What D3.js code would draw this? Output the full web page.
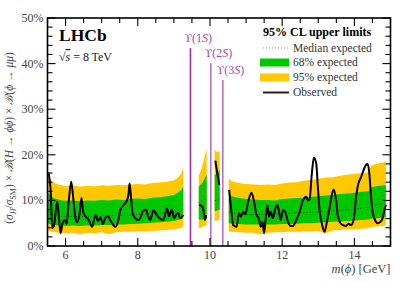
<!DOCTYPE html>
<html>
<head>
<meta charset="utf-8">
<script src="https://cdn.jsdelivr.net/npm/d3@7"></script>
<style>
  body { margin: 0; background: #fff; }
  svg text { font-family: "Liberation Serif", "DejaVu Serif", serif; }
</style>
</head>
<body>
<div id="chart"></div>
<script>
// ---- data (values in percent, masses in GeV) ----
// expected bands, region below the Upsilon(1S)
var massA   = [5.5,5.6,5.7,5.8,5.9,6.0,6.2,6.4,6.6,6.8,7.0,7.2,7.4,7.6,7.8,8.0,8.2,8.4,8.6,8.8,9.0,9.1,9.2,9.26];
var y95HiA  = [14.9,14.3,13.8,13.5,13.3,13.1,13.3,13.0,13.2,13.1,13.3,13.2,13.4,13.3,13.5,13.6,13.5,13.8,13.9,14.1,14.4,14.9,15.8,17.2];
var y68HiA  = [11.8,10.9,10.4,10.2,10.0,9.9,10.0,9.8,10.0,9.9,10.1,10.0,10.2,10.1,10.3,10.4,10.3,10.6,10.7,10.9,11.2,11.6,12.3,13.0];
var medA    = [7.6,7.0,6.7,6.6,6.5,6.4,6.5,6.4,6.5,6.5,6.6,6.6,6.7,6.7,6.8,6.9,7.0,7.1,7.2,7.3,7.5,7.7,8.0,8.3];
var y68LoA  = [5.0,4.7,4.6,4.5,4.5,4.4,4.5,4.4,4.5,4.5,4.6,4.6,4.7,4.7,4.8,4.9,5.0,5.1,5.2,5.3,5.5,5.7,5.9,6.1];
var y95LoA  = [3.4,3.2,3.0,2.9,2.9,2.8,2.9,2.5,2.9,2.8,3.0,2.6,3.0,3.1,3.1,3.2,3.2,3.3,3.4,3.5,3.6,3.8,4.0,4.3];

// between Upsilon(1S) and (2S)
var massB   = [9.69,9.75,9.80,9.85,9.91];
var y95HiB  = [15.5,16.5,18.0,19.5,21.3];
var y68HiB  = [13.0,13.5,14.0,14.8,15.6];
var medB    = [9.5,9.8,10.0,10.2,10.5];
var y68LoB  = [5.8,5.8,5.8,5.9,6.0];
var y95LoB  = [3.9,4.0,4.2,4.4,4.6];

// between Upsilon(2S) and (3S)
var massC   = [10.13,10.20,10.27];
var y95HiC  = [21.0,20.6,20.8];
var y68HiC  = [15.5,16.0,16.7];
var medC    = [10.0,10.0,10.2];
var y68LoC  = [7.6,7.8,8.0];
var y95LoC  = [5.5,5.6,5.8];

// above the Upsilon(3S)
var massD   = [10.52,10.6,10.8,11.0,11.2,11.4,11.6,11.8,12.0,12.2,12.4,12.6,12.8,13.0,13.2,13.4,13.6,13.8,14.0,14.2,14.4,14.45,14.6,14.8,14.87];
var y95HiD  = [14.8,14.2,13.8,13.6,13.5,13.4,13.5,13.4,13.7,13.9,14.0,14.3,14.5,14.7,15.0,15.1,15.4,15.6,15.8,16.0,16.2,17.6,18.0,18.3,18.5];
var y68HiD  = [11.6,10.9,10.5,10.3,10.2,10.1,10.1,10.0,10.3,10.4,10.5,10.6,10.8,10.9,11.1,11.2,11.4,11.5,11.7,11.9,12.0,12.8,13.1,13.3,13.4];
var medD    = [7.4,7.2,7.0,6.9,6.9,6.9,7.0,7.0,7.1,7.2,7.3,7.3,7.4,7.5,7.6,7.7,7.8,7.9,8.1,8.3,8.5,8.8,9.0,9.3,9.5];
var y68LoD  = [5.0,4.9,4.8,4.7,4.7,4.7,4.7,4.7,4.8,4.8,4.9,5.0,5.0,5.1,5.2,5.3,5.4,5.5,5.6,5.7,5.8,6.0,6.1,6.2,6.3];
var y95LoD  = [3.2,3.1,3.0,2.9,2.9,2.5,2.9,3.0,3.0,3.1,3.1,3.2,3.2,3.3,2.8,3.4,3.5,3.6,3.7,3.8,3.9,4.1,4.3,4.4,4.6];

// observed limits
var obsMassA = [5.523,5.586,5.633,5.68,5.768,5.82,5.862,5.917,5.972,6.028,6.09,6.157,6.207,6.268,6.323,6.386,6.441,6.488,6.552,6.634,6.737,6.828,6.897,6.966,7.029,7.103,7.178,7.241,7.324,7.379,7.462,7.517,7.608,7.702,7.746,7.774,7.812,7.857,7.931,8.006,8.069,8.132,8.226,8.29,8.345,8.436,8.51,8.593,8.712,8.806,8.869,8.943,9.007,9.076,9.126,9.172,9.263];
var obsA     = [16.1,12.3,3.9,4.5,9.7,6.0,2.8,5.0,5.7,4.8,10.0,14.1,11.0,6.4,5.2,7.0,10.5,7.5,6.5,5.8,4.2,6.8,5.5,6.3,4.8,6.2,6.5,5.6,4.6,4.2,5.7,7.9,9.0,10.0,11.5,13.7,10.8,7.2,6.1,5.7,6.1,7.5,8.0,6.5,5.7,7.9,7.0,6.2,5.7,8.3,6.5,8.0,6.1,7.0,7.2,6.1,6.8];
var obsMassB = [9.70,9.77,9.82,9.86,9.89];
var obsB     = [9.0,8.8,7.9,5.7,6.8];
var obsMassC = [10.15,10.20,10.26];
var obsC     = [18.7,16.0,13.4];
var obsMassD = [10.532,10.599,10.643,10.737,10.8,10.855,10.919,10.98,11.057,11.15,11.222,11.288,11.352,11.407,11.454,11.498,11.537,11.592,11.636,11.683,11.746,11.812,11.868,11.912,11.959,12.022,12.083,12.16,12.234,12.298,12.392,12.483,12.574,12.668,12.712,12.759,12.822,12.877,12.943,12.988,13.034,13.098,13.172,13.247,13.31,13.374,13.429,13.495,13.539,13.614,13.683,13.771,13.834,13.909,13.981,14.047,14.11,14.185,14.257,14.323,14.367,14.414,14.461,14.505,14.571,14.643,14.717,14.781,14.828,14.874];
var obsD     = [12.3,7.2,4.6,4.2,7.2,6.4,7.5,7.0,9.7,11.7,9.7,6.8,6.1,4.2,5.3,2.8,5.5,9.0,6.4,7.5,6.1,8.3,9.0,7.5,5.7,7.9,7.5,5.3,4.4,4.4,5.7,7.5,10.0,10.8,10.0,10.3,15.9,19.4,18.1,13.0,7.9,5.0,3.1,5.7,8.3,11.2,12.4,10.0,6.8,5.0,4.6,4.4,4.9,4.6,5.8,10.8,13.7,15.1,16.7,17.8,18.0,15.9,10.8,7.5,5.7,5.0,5.3,6.1,7.9,9.0];

// Upsilon resonances
var upsMass  = [9.46, 10.023, 10.355];
var upsTop   = [43.4, 40.1, 36.4];
var upsLabel = ["1", "2", "3"];
var upsColor = ["#9c2fac", "#b870c6", "#b870c6"];

var yTicks = [0, 10, 20, 30, 40, 50];
var xTicks = [6, 8, 10, 12, 14];

var legendLabels = ["Median expected", "68% expected", "95% expected", "Observed"];

// ---- layout ----
var W = 407, H = 291;
var plotL = 47.5, plotR = 390.5, plotT = 18, plotB = 246;

var svg = d3.select("#chart").append("svg")
  .attr("width", W).attr("height", H);

var x = d3.scaleLinear().domain([5.5, 15.0]).range([plotL, plotR]);
var y = d3.scaleLinear().domain([0, 50]).range([plotB, plotT]);

var yellow = "#ffc800", green = "#00c800";

function zipBand(m, a, b) {
  return m.map(function(v, i){ return {m: v, hi: a[i], lo: b[i]}; });
}
function zipLine(m, v) {
  return m.map(function(d, i){ return {m: d, v: v[i]}; });
}

var regions = [
  [massA, y95HiA, y68HiA, medA, y68LoA, y95LoA],
  [massB, y95HiB, y68HiB, medB, y68LoB, y95LoB],
  [massC, y95HiC, y68HiC, medC, y68LoC, y95LoC],
  [massD, y95HiD, y68HiD, medD, y68LoD, y95LoD]
];

var area = d3.area()
  .x(function(d){ return x(d.m); })
  .y0(function(d){ return y(d.lo); })
  .y1(function(d){ return y(d.hi); });

var line = d3.line()
  .x(function(d){ return x(d.m); })
  .y(function(d){ return y(d.v); });

var plot = svg.append("g");

regions.forEach(function(r){
  plot.append("path").datum(zipBand(r[0], r[1], r[5]))
    .attr("d", area).attr("fill", yellow);
  plot.append("path").datum(zipBand(r[0], r[2], r[4]))
    .attr("d", area).attr("fill", green);
  plot.append("path").datum(zipLine(r[0], r[3]))
    .attr("d", line).attr("fill", "none")
    .attr("stroke", "#333").attr("stroke-width", 0.9)
    .attr("stroke-dasharray", "1,2");
});

var obsLine = d3.line()
  .x(function(d){ return x(d.m); })
  .y(function(d){ return y(d.v); })
  .curve(d3.curveMonotoneX);

[[obsMassA, obsA], [obsMassB, obsB], [obsMassC, obsC], [obsMassD, obsD]].forEach(function(o){
  plot.append("path").datum(zipLine(o[0], o[1]))
    .attr("d", obsLine).attr("fill", "none")
    .attr("stroke", "#000").attr("stroke-width", 2)
    .attr("stroke-linejoin", "round");
});

// Upsilon lines + labels
upsMass.forEach(function(m, i){
  plot.append("line")
    .attr("x1", x(m)).attr("x2", x(m))
    .attr("y1", y(upsTop[i])).attr("y2", plotB)
    .attr("stroke", upsColor[i]).attr("stroke-width", 1.6);
  var t = plot.append("text")
    .attr("x", x(m) - 6).attr("y", y(upsTop[i]) - 6)
    .attr("fill", "#a848b8").attr("font-size", 12);
  t.append("tspan").attr("font-family", "DejaVu Serif").attr("font-size", 11).text("\u03D2");
  t.append("tspan").text("(" + upsLabel[i]);
  t.append("tspan").attr("font-style", "italic").text("S");
  t.append("tspan").text(")");
});

// ---- axes (ticks inside, on all four sides) ----
var minorX = d3.range(11, 31).map(function(d){ return d / 2; });
var minorY = d3.range(0, 51, 2);

var ax = svg.append("g").attr("stroke", "#000");
minorX.forEach(function(m){
  var major = xTicks.indexOf(m) >= 0;
  var len = major ? 8 : 5;
  ax.append("line").attr("x1", x(m)).attr("x2", x(m)).attr("y1", plotB).attr("y2", plotB - len).attr("stroke-width", 1.1);
  ax.append("line").attr("x1", x(m)).attr("x2", x(m)).attr("y1", plotT).attr("y2", plotT + len).attr("stroke-width", 1.1);
});
minorY.forEach(function(v){
  var major = yTicks.indexOf(v) >= 0;
  var len = major ? 8 : 5;
  ax.append("line").attr("x1", plotL).attr("x2", plotL + len).attr("y1", y(v)).attr("y2", y(v)).attr("stroke-width", 1.1);
  ax.append("line").attr("x1", plotR).attr("x2", plotR - len).attr("y1", y(v)).attr("y2", y(v)).attr("stroke-width", 1.1);
});

svg.append("rect")
  .attr("x", plotL).attr("y", plotT)
  .attr("width", plotR - plotL).attr("height", plotB - plotT)
  .attr("fill", "none").attr("stroke", "#000").attr("stroke-width", 1.6);

var labelColor = "#444";
svg.append("g").selectAll("text").data(yTicks).enter().append("text")
  .attr("x", plotL - 4).attr("y", function(d){ return y(d) + 4; })
  .attr("text-anchor", "end").attr("font-size", 12).attr("fill", labelColor)
  .text(function(d){ return d + "%"; });

svg.append("g").selectAll("text").data(xTicks).enter().append("text")
  .attr("x", function(d){ return x(d); }).attr("y", plotB + 13)
  .attr("text-anchor", "middle").attr("font-size", 12).attr("fill", labelColor)
  .text(function(d){ return d; });

// x title
var xt = svg.append("text").attr("x", plotR).attr("y", 273)
  .attr("text-anchor", "end").attr("font-size", 12.5).attr("fill", labelColor);
xt.append("tspan").attr("font-style", "italic").text("m");
xt.append("tspan").text("(");
xt.append("tspan").attr("font-style", "italic").text("\u03D5");
xt.append("tspan").text(") [GeV]");

// y title
var yt = svg.append("text")
  .attr("transform", "translate(13," + ((plotT + plotB) / 2 + 6) + ") rotate(-90)")
  .attr("text-anchor", "middle").attr("font-size", 11.5).attr("fill", labelColor);
yt.append("tspan").text("(");
yt.append("tspan").attr("font-style", "italic").text("\u03C3");
yt.append("tspan").attr("font-style", "italic").attr("font-size", 8).attr("dy", 3).text("H");
yt.append("tspan").attr("dy", -3).text("/");
yt.append("tspan").attr("font-style", "italic").text("\u03C3");
yt.append("tspan").attr("font-size", 8).attr("dy", 3).text("SM");
yt.append("tspan").attr("dy", -3).text(") \u00D7 ");
yt.append("tspan").attr("font-style", "italic").text("\u212C");
yt.append("tspan").text("(");
yt.append("tspan").attr("font-style", "italic").text("H");
yt.append("tspan").text(" \u2192 ");
yt.append("tspan").attr("font-style", "italic").text("\u03D5\u03D5");
yt.append("tspan").text(") \u00D7 ");
yt.append("tspan").attr("font-style", "italic").text("\u212C");
yt.append("tspan").text("(");
yt.append("tspan").attr("font-style", "italic").text("\u03D5");
yt.append("tspan").text(" \u2192 ");
yt.append("tspan").attr("font-style", "italic").text("\u03BC\u03BC");
yt.append("tspan").text(")");

// LHCb label
svg.append("text").attr("x", 59).attr("y", 41)
  .attr("font-size", 17.5).attr("font-weight", "bold").attr("fill", "#000")
  .text("LHCb");
var rs = svg.append("text").attr("x", 59).attr("y", 61)
  .attr("font-size", 12).attr("fill", "#222");
rs.append("tspan").text("\u221A");
rs.append("tspan").attr("font-style", "italic").attr("text-decoration", "overline").text("s");
rs.append("tspan").text(" = 8\u2009TeV");

// legend
var lg = svg.append("g");
lg.append("text").attr("x", 263).attr("y", 36)
  .attr("font-size", 12).attr("font-weight", "bold").attr("fill", "#000")
  .text("95% CL upper limits");
var rowY = [48, 62.5, 77.5, 92.5];
lg.append("line").attr("x1", 263).attr("x2", 289).attr("y1", rowY[0]).attr("y2", rowY[0])
  .attr("stroke", "#888").attr("stroke-width", 0.9).attr("stroke-dasharray", "1,2");
lg.append("rect").attr("x", 260).attr("y", rowY[1] - 4).attr("width", 29).attr("height", 8).attr("fill", green);
lg.append("rect").attr("x", 260).attr("y", rowY[2] - 4).attr("width", 29).attr("height", 8).attr("fill", yellow);
lg.append("line").attr("x1", 263).attr("x2", 289).attr("y1", rowY[3]).attr("y2", rowY[3])
  .attr("stroke", "#222").attr("stroke-width", 2);
lg.selectAll("text.item").data(legendLabels).enter().append("text")
  .attr("class", "item")
  .attr("x", 293).attr("y", function(d, i){ return rowY[i] + 3.5; })
  .attr("font-size", 11.5).attr("fill", "#333")
  .text(function(d){ return d; });
</script>
</body>
</html>
